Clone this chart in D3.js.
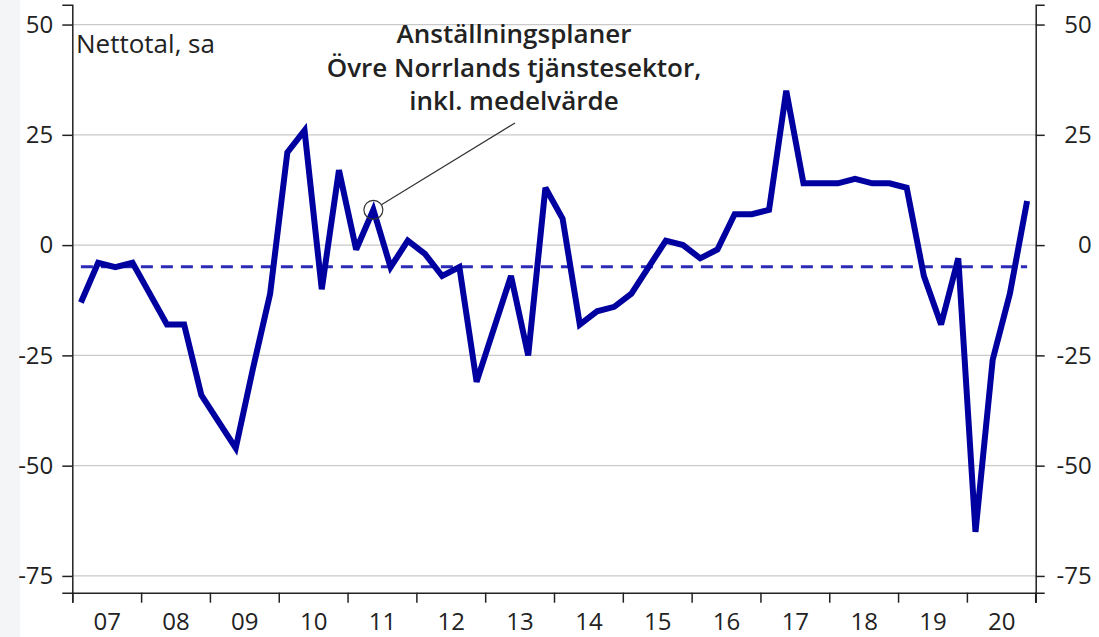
<!DOCTYPE html>
<html>
<head>
<meta charset="utf-8">
<script src="https://cdn.jsdelivr.net/npm/d3@7"></script>
<style>
  body { margin: 0; background: #fff; }
  .chart text { font-family: "Open Sans", sans-serif; fill: #222; }
</style>
</head>
<body>
<div class="chart"></div>
<script>
// quarterly values, 2007 Q1 .. 2020 Q4
var years = d3.range(2007, 2021);
var values = [
  -13, -4, -5, -4,      // 07
  -11, -18, -18, -34,   // 08
  -40, -46, -28, -11,   // 09
  21, 26, -10, 17,      // 10
  -1, 8, -5, 1,         // 11
  -2, -7, -5, -31,      // 12
  -19, -7, -25, 13,     // 13
  6, -18, -15, -14,     // 14
  -11, -5, 1, 0,        // 15
  -3, -1, 7, 7,         // 16
  8, 35, 14, 14,        // 17
  14, 15, 14, 14,       // 18
  13, -7, -18, -3,      // 19
  -65, -26, -11, 10     // 20
];
var meanValue = -4.9;
var yTicks = [50, 25, 0, -25, -50, -75];
var titleLines = ["Anställningsplaner", "Övre Norrlands tjänstesektor,", "inkl. medelvärde"];
var unitLabel = "Nettotal, sa";
var markedIndex = 17; // 2011 Q2

var svgWidth = 1099;
var svgHeight = 637;

var svg = d3.select(".chart")
  .append("svg")
  .attr("width", svgWidth)
  .attr("height", svgHeight);

// faint grey strip on the left edge of the original screenshot
svg.append("rect")
  .attr("x", 0).attr("y", 0)
  .attr("width", 20).attr("height", svgHeight)
  .attr("fill", "#f4f5f7");

var xScale = d3.scaleLinear()
  .domain([2007, 2021])
  .range([72.3, 1035.7]);

var yScale = d3.scaleLinear()
  .domain([-78.8, 54.5])
  .range([592.7, 4.7]);

var data = values.map(function(v, i) {
  return { t: 2007 + (i + 0.5) / 4, v: v };
});

// gridlines
svg.append("g")
  .selectAll("line")
  .data(yTicks)
  .enter()
  .append("line")
  .attr("x1", xScale(2007))
  .attr("x2", xScale(2021))
  .attr("y1", d => yScale(d))
  .attr("y2", d => yScale(d))
  .attr("stroke", "#c9c9c9")
  .attr("stroke-width", 1.3);

// axes
var leftAxis = d3.axisLeft(yScale)
  .tickValues(yTicks)
  .tickSize(10)
  .tickPadding(9)
  .tickFormat(d => String(d));

var rightAxis = d3.axisRight(yScale)
  .tickValues(yTicks)
  .tickSize(9)
  .tickFormat(d => String(d));

var bottomTicks = d3.axisBottom(xScale)
  .tickValues(d3.range(2007, 2022))
  .tickSize(10)
  .tickFormat("");

var bottomLabels = d3.axisBottom(xScale)
  .tickValues(years.map(y => y + 0.5))
  .tickSize(0)
  .tickPadding(20)
  .tickFormat(d => String(Math.floor(d) % 100).padStart(2, "0"));

var gLeft = svg.append("g")
  .attr("transform", `translate(${xScale(2007)}, 0)`)
  .call(leftAxis);

var gRight = svg.append("g")
  .attr("transform", `translate(${xScale(2021)}, 0)`)
  .call(rightAxis);
gRight.selectAll(".tick text")
  .attr("x", 56)
  .attr("text-anchor", "end");

var gBottom = svg.append("g")
  .attr("transform", `translate(0, ${yScale(-78.8)})`)
  .call(bottomTicks);

var gBottomLabels = svg.append("g")
  .attr("transform", `translate(0, ${yScale(-78.8)})`)
  .call(bottomLabels);
gBottomLabels.select(".domain").remove();

[gLeft, gRight, gBottom].forEach(function(g) {
  g.select(".domain").attr("stroke", "#222").attr("stroke-width", 1.5);
  g.selectAll(".tick line").attr("stroke", "#222").attr("stroke-width", 1.5);
});
svg.selectAll(".tick text")
  .style("font-size", "24px")
  .attr("fill", "#222");

// right axis line reaches down to the tick length
gRight.append("line")
  .attr("x1", 0).attr("x2", 0)
  .attr("y1", yScale(-78.8))
  .attr("y2", yScale(-78.8) + 10)
  .attr("stroke", "#222")
  .attr("stroke-width", 1.5);

// mean line
svg.append("line")
  .attr("x1", xScale(data[0].t))
  .attr("x2", xScale(data[data.length - 1].t))
  .attr("y1", yScale(meanValue))
  .attr("y2", yScale(meanValue))
  .attr("stroke", "#2b2bb8")
  .attr("stroke-width", 3)
  .attr("stroke-dasharray", "12,8");

// main series
var line = d3.line()
  .x(d => xScale(d.t))
  .y(d => yScale(d.v));

svg.append("path")
  .datum(data)
  .attr("d", line)
  .attr("fill", "none")
  .attr("stroke", "#0000a0")
  .attr("stroke-width", 6)
  .attr("stroke-linejoin", "miter")
  .attr("stroke-miterlimit", 3);

// unit label
svg.append("text")
  .attr("x", 76)
  .attr("y", 53)
  .style("font-size", "26px")
  .text(unitLabel);

// title block
var title = svg.append("text")
  .attr("text-anchor", "middle")
  .style("font-size", "26px")
  .style("font-weight", "600");
title.selectAll("tspan")
  .data(titleLines)
  .enter()
  .append("tspan")
  .attr("x", 514)
  .attr("y", (d, i) => 43 + i * 33.5)
  .text(d => d);

// annotation circle and leader
var mark = data[markedIndex];
var cx = xScale(mark.t);
var cy = yScale(mark.v);
svg.append("line")
  .attr("x1", cx + 8)
  .attr("y1", cy - 5)
  .attr("x2", 515)
  .attr("y2", 123)
  .attr("stroke", "#333")
  .attr("stroke-width", 1.2);
svg.append("circle")
  .attr("cx", cx)
  .attr("cy", cy)
  .attr("r", 9.5)
  .attr("fill", "none")
  .attr("stroke", "#333")
  .attr("stroke-width", 1.2);
</script>
</body>
</html>
